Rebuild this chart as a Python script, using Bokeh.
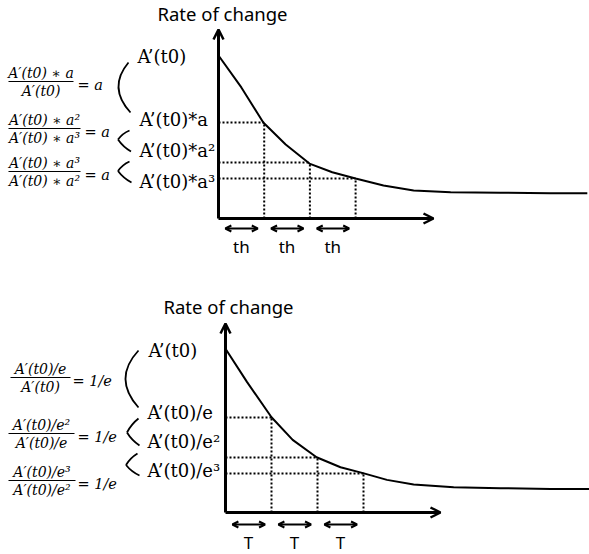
from bokeh.plotting import figure
from bokeh.layouts import column
from bokeh.models import Range1d, Arrow, OpenHead
from bokeh.core.properties import value
from bokeh.embed import file_html
from bokeh.resources import INLINE

# ---------------- data ----------------
# top panel: time in units of th, rate relative to A'(t0)
top_t = [0.0, 0.50, 0.98, 1.47, 1.99, 2.49, 3.0, 3.61, 4.27, 5.08, 6.17, 7.26, 8.07]
top_rate = [1.0, 0.804, 0.589, 0.454, 0.337, 0.284, 0.245, 0.202, 0.172, 0.161, 0.158, 0.155, 0.155]
top_step_t = [1, 2, 3]
top_step_rate = [0.589, 0.344, 0.245]
top_period_labels = ["th", "th", "th"]
top_level_labels = ["A’(t0)", "A’(t0)*a", "A’(t0)*a²", "A’(t0)*a³"]
top_num = ["A′(t0) ∗ a", "A′(t0) ∗ a²", "A′(t0) ∗ a³"]
top_den = ["A′(t0)", "A′(t0) ∗ a³", "A′(t0) ∗ a²"]
top_rhs = ["= a", "= a", "= a"]

# bottom panel: time in units of T, rate relative to A'(t0)
bot_t = [0.0, 0.47, 1.0, 1.46, 1.98, 2.5, 2.99, 3.51, 4.09, 4.96, 5.98, 7.07, 7.91]
bot_rate = [0.998, 0.795, 0.581, 0.443, 0.337, 0.276, 0.240, 0.199, 0.171, 0.154, 0.148, 0.144, 0.144]
bot_step_t = [1, 2, 3]
bot_step_rate = [0.579, 0.335, 0.238]
bot_period_labels = ["T", "T", "T"]
bot_level_labels = ["A’(t0)", "A’(t0)/e", "A’(t0)/e²", "A’(t0)/e³"]
bot_num = ["A′(t0)/e", "A′(t0)/e²", "A′(t0)/e³"]
bot_den = ["A′(t0)", "A′(t0)/e", "A′(t0)/e²"]
bot_rhs = ["= 1/e", "= 1/e", "= 1/e"]

title_text = "Rate of change"

SERIF = value("DejaVu Serif")
SANS = value("Noto Sans")
W = 589
X0 = 0  # page x of the figures' left edge


def arm(p, tx, ty, a, b, bulge):
    # slightly curved stroke from a to b, bowed sideways by `bulge` px
    mx, my = (a[0] + b[0]) / 2, (a[1] + b[1]) / 2
    dx, dy = b[0] - a[0], b[1] - a[1]
    L = (dx * dx + dy * dy) ** 0.5
    nx, ny = -dy / L, dx / L
    cx, cy = mx + nx * bulge, my + ny * bulge
    p.quadratic(x0=[tx(a[0])], y0=[ty(a[1])], cx=[tx(cx)], cy=[ty(cy)],
                x1=[tx(b[0])], y1=[ty(b[1])], line_color="black", line_width=1.8)


def panel(t, rate, step_t, step_rate, period_labels, level_labels, nums, dens, rhs,
          ox, oy, sx, sy, top_px, bottom_px, layout):
    tx = lambda px: (px - ox) / sx
    ty = lambda py: (oy - py) / sy
    p = figure(width=W, height=bottom_px - top_px,
               x_range=Range1d(tx(X0), tx(X0 + W)), y_range=Range1d(ty(bottom_px), ty(top_px)),
               output_backend="svg", toolbar_location=None, min_border=0,
               x_axis_location=None, y_axis_location=None, title=None)
    p.grid.visible = False
    p.outline_line_color = None
    p.background_fill_color = "white"
    p.border_fill_color = "white"

    # axes with arrow heads
    p.add_layout(Arrow(end=OpenHead(size=10, line_width=2.5, line_color="black"),
                       x_start=0, y_start=0, x_end=0, y_end=ty(layout["ytip"]),
                       line_width=3, line_color="black"))
    p.add_layout(Arrow(end=OpenHead(size=10, line_width=2.5, line_color="black"),
                       x_start=0, y_start=0, x_end=tx(layout["xtip"]), y_end=0,
                       line_width=3, line_color="black"))

    # dotted guides
    n = len(step_t)
    p.segment(x0=[0] * n, y0=step_rate, x1=step_t, y1=step_rate,
              line_color="black", line_width=2, line_dash="2 2")
    p.segment(x0=step_t, y0=[0] * n, x1=step_t, y1=step_rate,
              line_color="black", line_width=2, line_dash="2 2")

    # curve
    p.line(t, rate, line_color="black", line_width=2)

    # period double arrows and labels
    ya = ty(layout["arrow_y"])
    for i in range(n):
        p.add_layout(Arrow(start=OpenHead(size=6, line_width=2, line_color="black"),
                           end=OpenHead(size=6, line_width=2, line_color="black"),
                           x_start=i + 0.15, y_start=ya, x_end=i + 0.86, y_end=ya,
                           line_width=2, line_color="black"))
    p.text(x=[i + 0.5 for i in range(n)], y=[ty(layout["plab_y"])] * n, text=period_labels,
           text_font=SANS, text_font_size="17px", text_align="center",
           text_baseline="middle", text_color="black")

    # title
    p.text(x=[tx(layout["title_x"])], y=[ty(layout["title_y"])], text=[title_text],
           text_font=SANS, text_font_size="18.5px", text_align="center",
           text_baseline="middle", text_color="black")

    # level labels
    p.text(x=[tx(v) for v in layout["lab_x"]], y=[ty(v) for v in layout["lab_y"]],
           text=level_labels, text_font=SERIF, text_font_size=layout["lab_size"],
           text_align="left", text_baseline="middle", text_color="black")

    # brackets
    b0 = layout["big"]
    p.quadratic(x0=[tx(b0[0][0])], y0=[ty(b0[0][1])], cx=[tx(b0[1][0])], cy=[ty(b0[1][1])],
                x1=[tx(b0[2][0])], y1=[ty(b0[2][1])], line_color="black", line_width=1.8)
    for a, c, b in layout["small"]:
        arm(p, tx, ty, a, c, 2.0)
        arm(p, tx, ty, c, b, 2.0)

    # fractions
    for k in range(len(nums)):
        bl, br, by, eqx = layout["frac"][k]
        xc = tx((bl + br) / 2)
        p.segment(x0=[tx(bl)], y0=[ty(by)], x1=[tx(br)], y1=[ty(by)],
                  line_color="black", line_width=1)
        p.text(x=[xc], y=[ty(by - 9)], text=[nums[k]], text_font=SERIF,
               text_font_style="italic", text_font_size="14px", text_align="center",
               text_baseline="middle", text_color="black")
        p.text(x=[xc], y=[ty(by + 9.5)], text=[dens[k]], text_font=SERIF,
               text_font_style="italic", text_font_size="14px", text_align="center",
               text_baseline="middle", text_color="black")
        p.text(x=[tx(eqx)], y=[ty(by + 3)], text=[rhs[k]], text_font=SERIF,
               text_font_style="italic", text_font_size="14.5px", text_align="left",
               text_baseline="middle", text_color="black")
    return p


top_layout = dict(
    ytip=29, xtip=433, arrow_y=228, plab_y=246, title_x=222, title_y=13,
    lab_x=[137, 139, 139, 139], lab_y=[56, 119, 150, 181], lab_size="18px",
    big=[(128, 62), (107, 87), (130, 112)],
    small=[((129, 130), (117.5, 139), (130.5, 151)), ((129, 161), (117.5, 170.5), (131, 182))],
    frac=[(8, 73, 81, 77), (8, 80, 128, 84), (8, 80, 171, 84)],
)
bot_layout = dict(
    ytip=323, xtip=440, arrow_y=524, plab_y=542, title_x=228, title_y=306,
    lab_x=[148, 147, 147, 147], lab_y=[350, 412, 441, 470], lab_size="18px",
    big=[(138, 350), (112, 378), (138, 407)],
    small=[((138, 418), (126.5, 432), (139, 445)), ((137, 453), (125.5, 464.5), (139, 475))],
    frac=[(10, 70, 377, 72), (8, 74, 433, 77), (8, 75, 480, 77)],
)

p1 = panel(top_t, top_rate, top_step_t, top_step_rate, top_period_labels, top_level_labels,
           top_num, top_den, top_rhs, 218, 218, 45.7, 163, 0, 277, top_layout)
p2 = panel(bot_t, bot_rate, bot_step_t, bot_step_rate, bot_period_labels, bot_level_labels,
           bot_num, bot_den, bot_rhs, 225, 512, 46, 164, 277, 554, bot_layout)

layout = column(p1, p2, spacing=0)
open("out.html", "w").write(file_html(layout, INLINE))
